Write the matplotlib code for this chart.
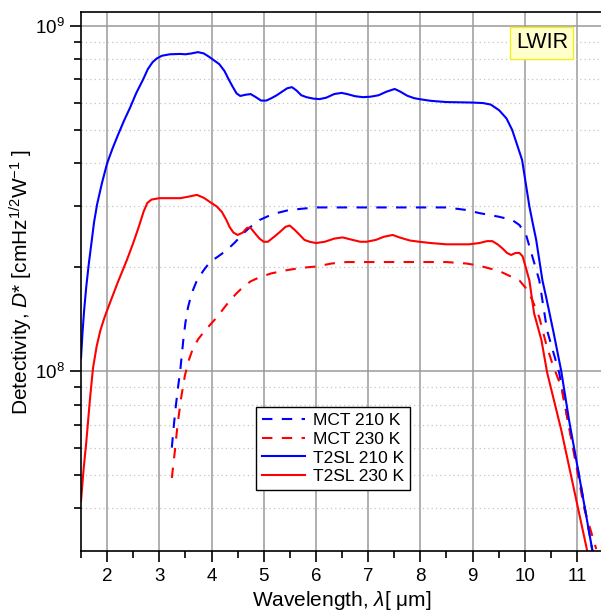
import matplotlib
matplotlib.use("Agg")
import matplotlib.pyplot as plt
from matplotlib.ticker import LogLocator, MultipleLocator, NullFormatter


# T2SL 210 K (solid blue)
t2sl_210_wl = [1.5, 1.53, 1.56, 1.6, 1.65, 1.7, 1.75, 1.81, 1.9, 2.0, 2.1, 2.2, 2.32,
               2.44, 2.56, 2.69, 2.78, 2.87, 2.95, 3.05, 3.2, 3.4, 3.5, 3.6, 3.74, 3.85,
               3.95, 4.05, 4.15, 4.25, 4.33, 4.41, 4.48, 4.55, 4.65, 4.75, 4.85, 4.95,
               5.05, 5.15, 5.25, 5.35, 5.45, 5.54, 5.63, 5.72, 5.82, 5.95, 6.07, 6.2,
               6.35, 6.49, 6.6, 6.75, 6.9, 7.05, 7.2, 7.35, 7.51, 7.62, 7.75, 7.88,
               7.98, 8.2, 8.5, 8.75, 9.0, 9.2, 9.35, 9.51, 9.65, 9.76, 9.86, 9.95,
               10.02, 10.09, 10.15, 10.22, 10.34, 10.41, 10.55, 10.7, 10.85, 11.04, 11.3]
t2sl_210_d = [1.09e8, 1.3e8, 1.5e8, 1.75e8, 2.05e8, 2.35e8, 2.7e8, 3.05e8, 3.5e8, 4.0e8,
              4.4e8, 4.8e8, 5.3e8, 5.8e8, 6.4e8, 7.0e8, 7.5e8, 7.85e8, 8.05e8, 8.2e8,
              8.28e8, 8.3e8, 8.28e8, 8.32e8, 8.4e8, 8.33e8, 8.15e8, 7.95e8, 7.75e8,
              7.4e8, 7.0e8, 6.65e8, 6.38e8, 6.27e8, 6.32e8, 6.35e8, 6.22e8, 6.08e8,
              6.08e8, 6.18e8, 6.3e8, 6.45e8, 6.6e8, 6.65e8, 6.5e8, 6.3e8, 6.22e8,
              6.16e8, 6.14e8, 6.2e8, 6.35e8, 6.4e8, 6.35e8, 6.26e8, 6.22e8, 6.24e8,
              6.3e8, 6.45e8, 6.57e8, 6.45e8, 6.28e8, 6.18e8, 6.14e8, 6.07e8, 6.02e8,
              6.01e8, 6.0e8, 5.98e8, 5.92e8, 5.7e8, 5.4e8, 5.0e8, 4.5e8, 4.09e8, 3.5e8,
              3.0e8, 2.7e8, 2.4e8, 1.83e8, 1.64e8, 1.3e8, 1.0e8, 7.2e7, 5.0e7, 3.0e7]

# T2SL 230 K (solid red)
t2sl_230_wl = [1.5, 1.55, 1.6, 1.675, 1.73, 1.8, 1.87, 1.95, 2.05, 2.2, 2.38, 2.5, 2.6,
               2.7, 2.77, 2.85, 3.0, 3.2, 3.4, 3.55, 3.72, 3.85, 3.97, 4.1, 4.2, 4.28,
               4.35, 4.42, 4.5, 4.6, 4.68, 4.75, 4.84, 4.92, 5.0, 5.08, 5.2, 5.31, 5.42,
               5.5, 5.6, 5.69, 5.78, 5.88, 6.0, 6.17, 6.35, 6.51, 6.7, 6.85, 6.97, 7.15,
               7.3, 7.47, 7.6, 7.8, 7.98, 8.2, 8.5, 8.94, 9.13, 9.28, 9.38, 9.48, 9.57,
               9.66, 9.74, 9.83, 9.9, 9.96, 10.02, 10.09, 10.18, 10.32, 10.43, 10.7, 11.2]
t2sl_230_d = [4.2e7, 5.2e7, 6.2e7, 8.4e7, 1.02e8, 1.18e8, 1.31e8, 1.43e8, 1.57e8, 1.8e8,
              2.1e8, 2.35e8, 2.6e8, 2.9e8, 3.07e8, 3.14e8, 3.17e8, 3.17e8, 3.17e8, 3.2e8,
              3.24e8, 3.18e8, 3.09e8, 3.0e8, 2.89e8, 2.75e8, 2.61e8, 2.52e8, 2.48e8,
              2.52e8, 2.6e8, 2.6e8, 2.5e8, 2.42e8, 2.37e8, 2.37e8, 2.45e8, 2.53e8,
              2.62e8, 2.64e8, 2.56e8, 2.48e8, 2.4e8, 2.37e8, 2.35e8, 2.37e8, 2.42e8,
              2.44e8, 2.4e8, 2.37e8, 2.37e8, 2.4e8, 2.45e8, 2.48e8, 2.44e8, 2.39e8,
              2.37e8, 2.35e8, 2.33e8, 2.33e8, 2.35e8, 2.38e8, 2.38e8, 2.33e8, 2.27e8,
              2.2e8, 2.17e8, 2.2e8, 2.2e8, 2.15e8, 2.0e8, 1.83e8, 1.47e8, 1.23e8, 9.9e7,
              6.75e7, 3.0e7]

# MCT 210 K (dashed blue)
mct_210_wl = [3.24, 3.28, 3.32, 3.36, 3.4, 3.46, 3.5, 3.55, 3.62, 3.72, 3.85, 3.97,
              4.13, 4.29, 4.45, 4.6, 4.75, 4.92, 5.08, 5.25, 5.45, 5.69, 6.0, 8.5, 8.88,
              9.13, 9.51, 9.76, 9.9, 10.03, 10.15, 10.28, 10.43, 10.66, 10.81, 11.04, 11.3]
mct_210_d = [6.0e7, 7.0e7, 8.0e7, 9.0e7, 1.0e8, 1.23e8, 1.38e8, 1.53e8, 1.68e8, 1.83e8,
             1.96e8, 2.07e8, 2.15e8, 2.24e8, 2.36e8, 2.5e8, 2.62e8, 2.74e8, 2.81e8,
             2.87e8, 2.92e8, 2.95e8, 2.98e8, 2.98e8, 2.93e8, 2.87e8, 2.8e8, 2.74e8,
             2.65e8, 2.47e8, 2.14e8, 1.83e8, 1.31e8, 9.9e7, 7.4e7, 5.0e7, 3.0e7]

# MCT 230 K (dashed red)
mct_230_wl = [3.24, 3.3, 3.35, 3.42, 3.49, 3.57, 3.65, 3.75, 3.84, 3.97, 4.1, 4.22,
              4.35, 4.48, 4.6, 4.75, 4.92, 5.15, 5.44, 5.7, 6.02, 6.3, 6.59, 8.5, 8.88,
              9.13, 9.51, 9.9, 10.05, 10.15, 10.28, 10.41, 10.53, 10.7, 10.81, 11.14, 11.37]
mct_230_d = [4.9e7, 5.9e7, 7.0e7, 8.4e7, 9.7e7, 1.08e8, 1.17e8, 1.24e8, 1.29e8, 1.36e8,
             1.43e8, 1.51e8, 1.6e8, 1.68e8, 1.75e8, 1.82e8, 1.87e8, 1.92e8, 1.96e8,
             1.99e8, 2.01e8, 2.05e8, 2.07e8, 2.07e8, 2.05e8, 2.02e8, 1.95e8, 1.83e8,
             1.72e8, 1.6e8, 1.43e8, 1.2e8, 1.05e8, 9.0e7, 7.4e7, 4.0e7, 3.05e7]


def set_style():
    plt.rcParams.update({
        "font.family": ["Liberation Sans", "DejaVu Sans"],
        "mathtext.fontset": "custom",
        "mathtext.rm": "Liberation Sans",
        "mathtext.it": "Liberation Sans:italic",
        "mathtext.bf": "Liberation Sans:bold",
        "axes.linewidth": 1.2,
    })


def main():
    set_style()

    fig = plt.figure(figsize=(6.01, 6.13), dpi=100)
    ax = fig.add_axes([81 / 601, 62 / 613, 522 / 601, 539 / 613])

    dash = (0, (5, 4.5))
    ax.plot(mct_210_wl, mct_210_d, color="#0000ff", lw=1.5, ls=dash, label="MCT 210 K")
    ax.plot(mct_230_wl, mct_230_d, color="#ff0000", lw=1.5, ls=dash, label="MCT 230 K")
    ax.plot(t2sl_210_wl, t2sl_210_d, color="#0000ff", lw=1.5, label="T2SL 210 K")
    ax.plot(t2sl_230_wl, t2sl_230_d, color="#ff0000", lw=1.5, label="T2SL 230 K")

    ax.set_yscale("log")
    ax.set_xlim(1.5, 11.5)
    ax.set_ylim(3.01e7, 1.098e9)

    ax.xaxis.set_major_locator(MultipleLocator(1))
    ax.xaxis.set_minor_locator(MultipleLocator(0.5))
    ax.yaxis.set_major_locator(LogLocator(base=10))
    ax.yaxis.set_minor_locator(LogLocator(base=10, subs=range(2, 10)))
    ax.yaxis.set_minor_formatter(NullFormatter())

    ax.set_axisbelow(True)
    ax.grid(which="major", color="#9a9a9a", lw=1.1)
    ax.grid(which="minor", axis="y", color="#c4c4c4", lw=0.9, ls=(0, (1, 2.5)))

    ax.tick_params(which="major", direction="out", length=8, width=1.2,
                   labelsize=13.5, pad=4, top=False, right=False)
    ax.tick_params(which="minor", direction="out", length=5, width=1.2,
                   top=False, right=False)
    ax.spines["right"].set_visible(False)

    ax.set_xlabel(r"Wavelength, $\lambda$[ μm]", fontsize=15, labelpad=3)
    ax.set_ylabel(r"Detectivity, $D$* [cmHz$^{1/2}$W$^{-1}$ ]", fontsize=15, labelpad=0)

    ax.text(0.883, 0.9425, "LWIR", transform=ax.transAxes, ha="center", va="center",
            fontsize=15.5, bbox=dict(boxstyle="square,pad=0.25", fc="#ffffcc",
                                     ec="#f0f020", lw=1))

    leg = ax.legend(loc="upper left", bbox_to_anchor=(0.335, 0.267), borderaxespad=0,
                    fontsize=12.5, handlelength=2.5, labelspacing=0.2,
                    handletextpad=0.45, borderpad=0.35, fancybox=False, framealpha=1)
    leg.get_frame().set_edgecolor("black")
    leg.get_frame().set_linewidth(1.0)

    fig.savefig("out.png", dpi=100)


if __name__ == "__main__":
    main()
